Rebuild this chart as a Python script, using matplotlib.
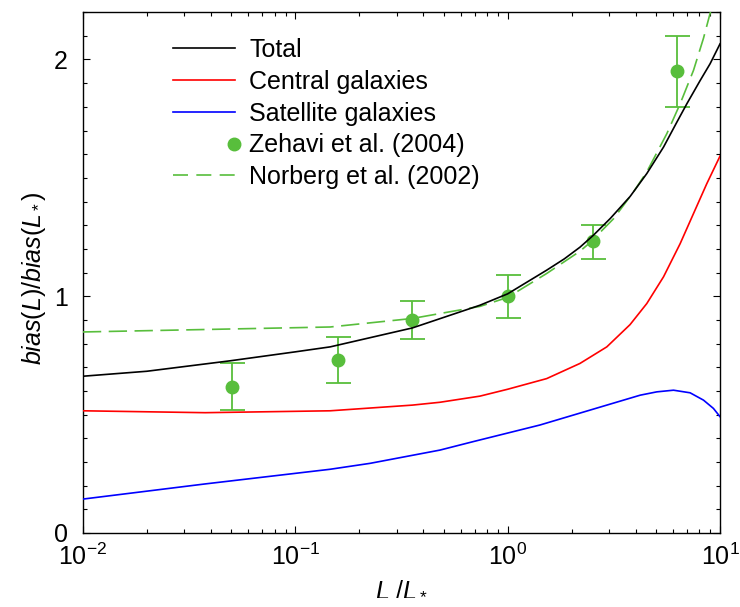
import numpy as np
import matplotlib
matplotlib.use('Agg')
import matplotlib.pyplot as plt
from matplotlib.lines import Line2D
from matplotlib.legend_handler import HandlerLine2D
from matplotlib.ticker import MultipleLocator

plt.rcParams['font.family'] = ['Liberation Sans', 'DejaVu Sans']
plt.rcParams['mathtext.fontset'] = 'custom'
plt.rcParams['mathtext.rm'] = 'Liberation Sans'
plt.rcParams['mathtext.it'] = 'Liberation Sans:italic'
plt.rcParams['mathtext.default'] = 'it'

# model curves
L_total = [0.01, 0.02, 0.0492, 0.1, 0.146, 0.356, 0.741, 1.0, 1.527, 1.85, 2.19,
           2.53, 3.04, 3.77, 4.52, 5.42, 6.26, 6.98, 8.06, 8.98, 10.0]
b_total = [0.662, 0.683, 0.727, 0.765, 0.786, 0.866, 0.962, 1.010, 1.110, 1.158, 1.207,
           1.257, 1.328, 1.421, 1.518, 1.630, 1.735, 1.813, 1.911, 1.982, 2.066]

L_central = [0.01, 0.0376, 0.146, 0.356, 0.48, 0.741, 1.0, 1.527, 2.19, 2.93,
             3.77, 4.52, 5.42, 6.49, 7.50, 8.66, 10.0]
b_central = [0.516, 0.508, 0.516, 0.540, 0.552, 0.578, 0.607, 0.652, 0.716, 0.786,
             0.880, 0.969, 1.082, 1.222, 1.349, 1.475, 1.592]

L_sat = [0.01, 0.0376, 0.146, 0.225, 0.48, 0.69, 0.99, 1.42, 2.04, 2.93,
         4.21, 5.04, 6.04, 7.23, 8.36, 9.31, 10.0]
b_sat = [0.143, 0.207, 0.269, 0.294, 0.350, 0.386, 0.421, 0.456, 0.498, 0.540,
         0.582, 0.596, 0.603, 0.592, 0.561, 0.526, 0.491]

L_norberg = [0.01, 0.146, 0.356, 0.741, 1.0, 1.527, 2.19, 2.44, 3.15, 3.91,
             4.52, 5.62, 6.49, 7.50, 8.36, 8.97, 9.15]
b_norberg = [0.849, 0.870, 0.906, 0.957, 0.995, 1.096, 1.190, 1.226, 1.327, 1.440,
             1.525, 1.687, 1.813, 1.954, 2.090, 2.193, 2.220]

# Zehavi et al. (2004) data points
L_zehavi = [0.0503, 0.1587, 0.356, 1.0, 2.51, 6.30]
b_zehavi = [0.617, 0.730, 0.899, 1.0, 1.232, 1.951]
err_lo = [0.098, 0.098, 0.079, 0.091, 0.073, 0.152]
err_hi = [0.103, 0.098, 0.080, 0.089, 0.068, 0.150]

green = '#58BE3C'


class HandlerRightMarker(HandlerLine2D):
    # single legend marker sits at the right end of the handle
    def get_xdata(self, legend, xdescent, ydescent, width, height, fontsize):
        xr = -xdescent + width - 1
        return [xr - 1, xr + 1], [xr]


fig = plt.figure(figsize=(7.4, 6.07), dpi=100)
ax = fig.add_axes([0.112, 0.122, 0.861, 0.858])

ax.errorbar(L_zehavi, b_zehavi, yerr=[err_lo, err_hi], fmt='o', color=green,
            ms=9, elinewidth=1.3, capsize=9, capthick=1.3, zorder=2)
ax.plot(L_norberg, b_norberg, color=green, lw=1.2, dashes=(11, 4.5), zorder=3)
ax.plot(L_total, b_total, color='black', lw=1.2, zorder=4)
ax.plot(L_central, b_central, color='#FF0000', lw=1.2, zorder=4)
ax.plot(L_sat, b_sat, color='#0000FF', lw=1.2, zorder=4)

ax.set_xscale('log')
ax.set_xlim(0.01, 10)
ax.set_ylim(0, 2.2)
ax.yaxis.set_major_locator(MultipleLocator(1))
ax.yaxis.set_minor_locator(MultipleLocator(0.1))

ax.tick_params(which='both', direction='in', top=True, right=True, width=0.8)
ax.tick_params(which='major', length=5)
ax.tick_params(which='minor', length=3)
ax.tick_params(axis='x', which='major', labelsize=18, pad=8)
ax.tick_params(axis='y', which='major', labelsize=18, pad=11)
for s in ax.spines.values():
    s.set_linewidth(1.0)

ax.set_xlabel(r'$L\ /L_*$', fontsize=18)
ax.set_ylabel(r'$bias(L)/bias(L_*)$', fontsize=18)
ax.xaxis.set_label_coords(0.5, -0.083)
ax.yaxis.set_label_coords(-0.054, 0.49)

handles = [
    Line2D([], [], color='black', lw=1.2),
    Line2D([], [], color='#FF0000', lw=1.2),
    Line2D([], [], color='#0000FF', lw=1.2),
    Line2D([], [], color=green, ls='none', marker='o', ms=9),
    Line2D([], [], color=green, lw=1.2, dashes=(9, 5)),
]
labels = ['Total', 'Central galaxies', 'Satellite galaxies',
          'Zehavi et al. (2004)', 'Norberg et al. (2002)']
ax.legend(handles, labels, loc='upper left', bbox_to_anchor=(0.141, 0.950),
          frameon=False, fontsize=18, borderpad=0, borderaxespad=0,
          handlelength=2.5, handletextpad=0.56, labelspacing=0.31,
          handler_map={handles[3]: HandlerRightMarker()})

fig.savefig('out.png', dpi=100)
